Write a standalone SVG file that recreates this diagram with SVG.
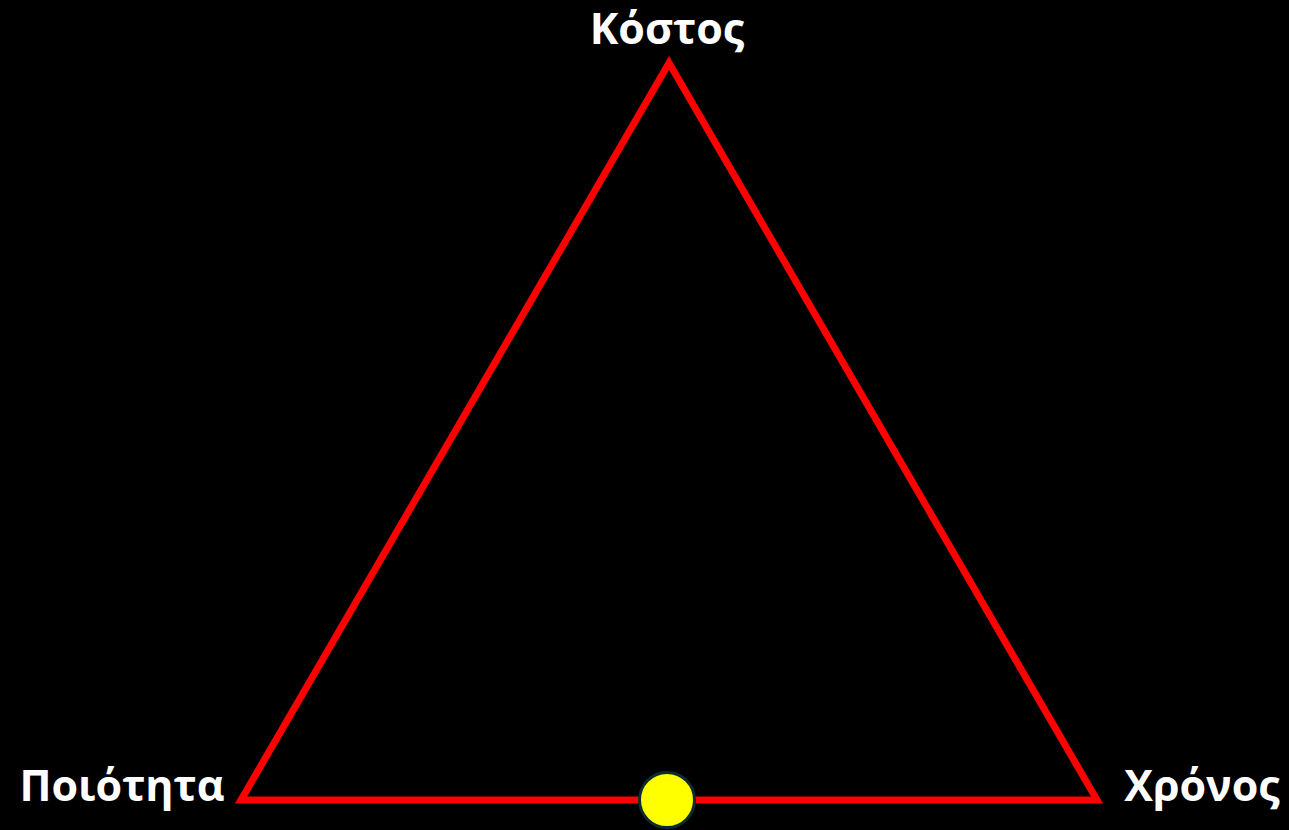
<svg xmlns="http://www.w3.org/2000/svg" width="1289" height="830" viewBox="0 0 1289 830">
<style>
.lbl{font-family:"Open Sans","Noto Sans","DejaVu Sans",sans-serif;font-weight:bold;font-size:43px;fill:#ffffff}
</style>
<rect width="1289" height="830" fill="#000000"/>
<g id="connectors">
<polygon points="669,63 241,800 1097,800" fill="none" stroke="#ff0000" stroke-width="7" stroke-linejoin="miter"/>
</g>
<g id="node-kostos"><text class="lbl" x="667" y="44" text-anchor="middle">Κόστος</text></g>
<g id="node-poiotita"><text class="lbl" x="122" y="801" text-anchor="middle">Ποιότητα</text></g>
<g id="node-chronos"><text class="lbl" x="1202" y="801" text-anchor="middle">Χρόνος</text></g>
<g id="node-point"><circle cx="667" cy="800" r="27.5" fill="#ffff00" stroke="#0d2a33" stroke-width="3"/></g>
</svg>
